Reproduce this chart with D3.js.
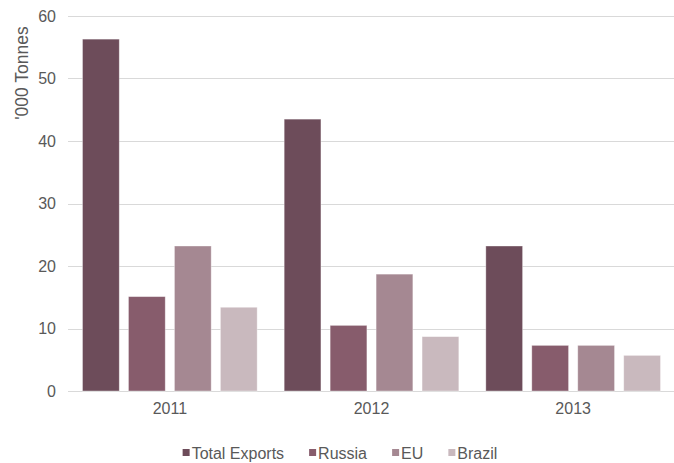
<!DOCTYPE html>
<html>
<head>
<meta charset="utf-8">
<script src="https://cdn.jsdelivr.net/npm/d3@7"></script>
<style>
  html, body { margin: 0; padding: 0; background: #fff; }
  svg { display: block; font-family: "Liberation Sans", Arial, sans-serif; }
</style>
</head>
<body>
<svg id="chart" width="674" height="463"></svg>
<script>
// Exports by year, thousand tonnes
const years = ["2011", "2012", "2013"];
const seriesNames = ["Total Exports", "Russia", "EU", "Brazil"];
const totalExports = [56.3, 43.5, 23.2];
const russia = [15.1, 10.5, 7.3];
const eu = [23.2, 18.7, 7.3];
const brazil = [13.4, 8.7, 5.7];
const yTicks = [0, 10, 20, 30, 40, 50, 60];
const colors = ["#6d4c5a", "#875c6c", "#a58892", "#c9b9be"];

const seriesValues = [totalExports, russia, eu, brazil];

const svg = d3.select("#chart");
const W = 674, H = 463;
const plot = { left: 69, right: 674, top: 16, bottom: 391 };
const labelFont = "16px";

const y = d3.scaleLinear().domain([0, 60]).range([plot.bottom, plot.top]);
const x0 = d3.scaleBand().domain(years).range([plot.left, plot.right]);
const groupPad = 13.5;
const x1 = d3.scaleBand().domain(seriesNames)
  .range([groupPad, x0.bandwidth() - groupPad])
  .paddingInner(0.2).paddingOuter(0);
const color = d3.scaleOrdinal().domain(seriesNames).range(colors);

// Horizontal gridlines
svg.append("g")
  .selectAll("line")
  .data(yTicks)
  .join("line")
  .attr("x1", 68).attr("x2", W)
  .attr("y1", d => Math.round(y(d)) + 0.5)
  .attr("y2", d => Math.round(y(d)) + 0.5)
  .attr("stroke", "#d9d9d9")
  .attr("stroke-width", 1);

// Y axis tick labels
const yAxis = d3.axisLeft(y).tickValues(yTicks).tickSize(0).tickPadding(0);
svg.append("g")
  .attr("transform", `translate(56,0)`)
  .call(yAxis)
  .call(g => g.select(".domain").remove())
  .call(g => g.selectAll("text")
    .attr("fill", "#595959")
    .style("font-size", labelFont)
    .style("font-family", "'Liberation Sans', Arial, sans-serif"));

// X axis category labels
const xAxis = d3.axisBottom(x0).tickSize(0).tickPadding(0);
svg.append("g")
  .attr("transform", `translate(0,${plot.bottom + 12})`)
  .call(xAxis)
  .call(g => g.select(".domain").remove())
  .call(g => g.selectAll("text")
    .attr("fill", "#595959")
    .style("font-size", labelFont)
    .style("font-family", "'Liberation Sans', Arial, sans-serif"));

// Bars
const rows = years.map((yr, i) => ({
  year: yr,
  values: seriesNames.map((s, j) => ({ series: s, value: seriesValues[j][i] }))
}));

svg.append("g")
  .selectAll("g")
  .data(rows)
  .join("g")
  .attr("transform", d => `translate(${x0(d.year)},0)`)
  .selectAll("rect")
  .data(d => d.values)
  .join("rect")
  .attr("x", d => x1(d.series))
  .attr("width", x1.bandwidth())
  .attr("y", d => y(d.value))
  .attr("height", d => y(0) - y(d.value))
  .attr("fill", d => color(d.series))
  .attr("stroke", "#ffffff")
  .attr("stroke-opacity", 0.45)
  .attr("stroke-width", 0.8);

// Y axis title
svg.append("text")
  .attr("transform", `translate(28,73) rotate(-90)`)
  .attr("text-anchor", "middle")
  .attr("fill", "#595959")
  .style("font-size", "17.5px")
  .text("'000 Tonnes");

// Legend
const legend = svg.append("g").attr("class", "legend");
const items = legend.selectAll("g")
  .data(seriesNames)
  .join("g");
items.append("rect")
  .attr("width", 7).attr("height", 7)
  .attr("y", -10)
  .attr("fill", d => color(d));
items.append("text")
  .attr("x", 9)
  .attr("fill", "#595959")
  .style("font-size", labelFont)
  .text(d => d);
const gap = 25;
const widths = items.nodes().map(n => n.getBBox().width);
const totalW = d3.sum(widths) + gap * (widths.length - 1);
let startX = 340 - totalW / 2;
items.attr("transform", (d, i) => {
  const tx = startX;
  startX += widths[i] + gap;
  return `translate(${tx},${H - 4})`;
});
</script>
</body>
</html>
